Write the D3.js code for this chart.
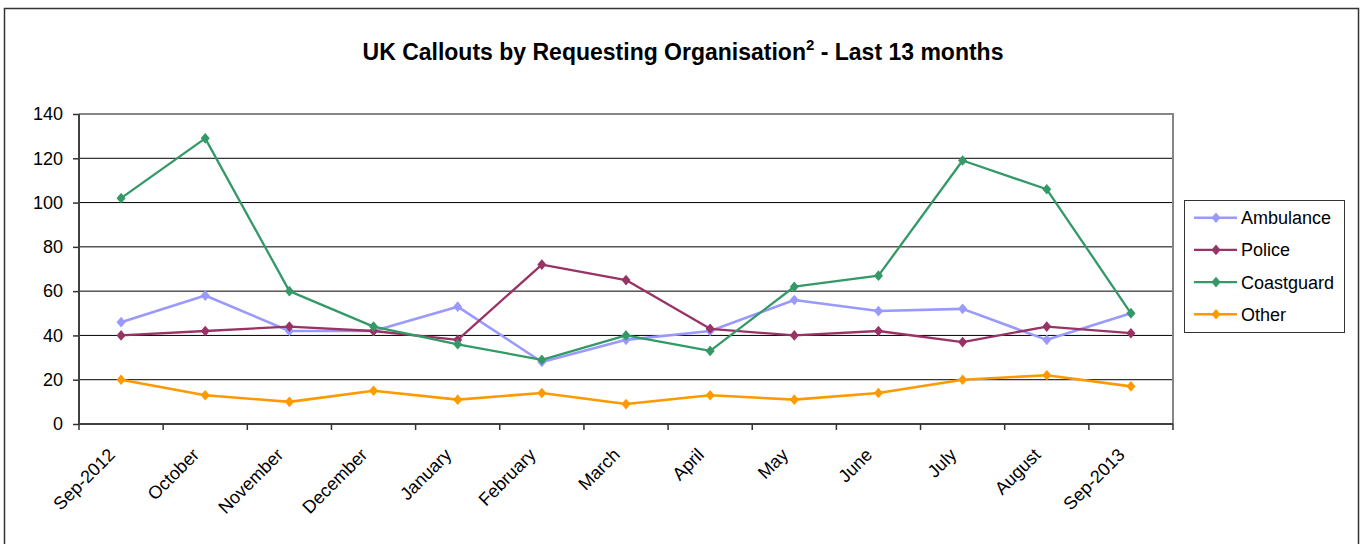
<!DOCTYPE html>
<html>
<head>
<meta charset="utf-8">
<script src="https://cdn.jsdelivr.net/npm/d3@7"></script>
<style>
  body { margin: 0; background: #fff; }
  svg { display: block; font-family: Arial, "Liberation Sans", sans-serif; }
</style>
</head>
<body>
<div id="app"></div>
<script>
// months on the x axis
const months = ['Sep-2012', 'October', 'November', 'December', 'January', 'February',
  'March', 'April', 'May', 'June', 'July', 'August', 'Sep-2013']

// callouts per requesting organisation
const ambulance = [46, 58, 42, 42, 53, 28, 38, 42, 56, 51, 52, 38, 50]
const police = [40, 42, 44, 42, 38, 72, 65, 43, 40, 42, 37, 44, 41]
const coastguard = [102, 129, 60, 44, 36, 29, 40, 33, 62, 67, 119, 106, 50]
const other = [20, 13, 10, 15, 11, 14, 9, 13, 11, 14, 20, 22, 17]

const seriesNames = ['Ambulance', 'Police', 'Coastguard', 'Other']
const yTicks = [0, 20, 40, 60, 80, 100, 120, 140]

function main() {
  const width = 1362
  const height = 544

  const series = [
    { name: 'Ambulance', values: ambulance, color: '#9999ff', width: 2.6 },
    { name: 'Police', values: police, color: '#993366', width: 2.3 },
    { name: 'Coastguard', values: coastguard, color: '#339966', width: 2.3 },
    { name: 'Other', values: other, color: '#ff9900', width: 2.6 }
  ]

  const svg = d3.select('#app')
    .append('svg')
    .attr('width', width)
    .attr('height', height)

  // outer chart frame (bottom edge runs past the picture)
  svg.append('rect')
    .attr('x', 4.5)
    .attr('y', 8.5)
    .attr('width', 1354)
    .attr('height', 560)
    .attr('fill', 'none')
    .attr('stroke', '#333')
    .attr('stroke-width', 1.5)

  // title
  const title = svg.append('text')
    .attr('x', 683)
    .attr('y', 60)
    .attr('text-anchor', 'middle')
    .attr('font-size', 23)
    .attr('font-weight', 'bold')
    .attr('fill', '#000')
  title.append('tspan').text('UK Callouts by Requesting Organisation')
  title.append('tspan').attr('font-size', 15).attr('dy', -10).text('2')
  title.append('tspan').attr('dy', 10).text(' - Last 13 months')

  // scales
  const x = d3.scaleBand().domain(months).range([79, 1173])
  const y = d3.scaleLinear().domain([0, 140]).range([424, 114])
  const cx = (m) => x(m) + x.bandwidth() / 2

  // gridlines
  svg.append('g')
    .selectAll('line')
    .data(yTicks.filter((t) => t > 0 && t < 140))
    .join('line')
    .attr('x1', x.range()[0])
    .attr('x2', x.range()[1])
    .attr('y1', (d) => y(d))
    .attr('y2', (d) => y(d))
    .attr('stroke', '#000')
    .attr('stroke-width', 1)

  // plot area border: top and right in grey
  svg.append('path')
    .attr('d', `M${x.range()[0]},${y(140)}H${x.range()[1]}V${y(0)}`)
    .attr('fill', 'none')
    .attr('stroke', '#868686')
    .attr('stroke-width', 2)

  // y axis
  const yAxis = svg.append('g')
    .attr('transform', `translate(${x.range()[0]},0)`)
    .call(d3.axisLeft(y).tickValues(yTicks).tickSize(6).tickPadding(10))
  yAxis.select('.domain').remove()
  yAxis.selectAll('.tick line').attr('stroke', '#333').attr('stroke-width', 1.5)
  yAxis.selectAll('.tick text')
    .attr('font-size', 18)
    .attr('font-family', 'Arial, "Liberation Sans", sans-serif')
    .attr('fill', '#000')
  yAxis.append('line')
    .attr('x1', 0).attr('x2', 0)
    .attr('y1', y(140)).attr('y2', y(0))
    .attr('stroke', '#404040')
    .attr('stroke-width', 2)

  // x axis line and ticks on band boundaries
  const xg = svg.append('g')
  xg.append('line')
    .attr('x1', x.range()[0]).attr('x2', x.range()[1])
    .attr('y1', y(0)).attr('y2', y(0))
    .attr('stroke', '#404040')
    .attr('stroke-width', 2)
  const tickXs = months.map((m) => x(m)).concat([x.range()[1]])
  xg.selectAll('.xtick')
    .data(tickXs)
    .join('line')
    .attr('class', 'xtick')
    .attr('x1', (d) => d).attr('x2', (d) => d)
    .attr('y1', y(0)).attr('y2', y(0) + 6)
    .attr('stroke', '#333')
    .attr('stroke-width', 1.5)

  // rotated month labels
  xg.selectAll('.xlabel')
    .data(months)
    .join('text')
    .attr('class', 'xlabel')
    .attr('text-anchor', 'end')
    .attr('font-size', 18)
    .attr('fill', '#000')
    .attr('transform', (d) => `translate(${cx(d) - 5},${y(0) + 32}) rotate(-45)`)
    .text((d) => d)

  // lines and diamond markers
  const line = d3.line()
    .x((d, i) => cx(months[i]))
    .y((d) => y(d))

  // Excel-style diamond: nearly square, slightly taller than wide
  const excelDiamond = {
    draw(context, size) {
      const h = Math.sqrt(size / 1.7)
      const w = h * 0.85
      context.moveTo(0, -h)
      context.lineTo(w, 0)
      context.lineTo(0, h)
      context.lineTo(-w, 0)
      context.closePath()
    }
  }
  const diamond = d3.symbol().type(excelDiamond).size(48)

  series.forEach((s) => {
    const g = svg.append('g')
    g.append('path')
      .datum(s.values)
      .attr('d', line)
      .attr('fill', 'none')
      .attr('stroke', s.color)
      .attr('stroke-width', s.width)
      .attr('stroke-linejoin', 'round')
    g.selectAll('path.marker')
      .data(s.values)
      .join('path')
      .attr('class', 'marker')
      .attr('d', diamond)
      .attr('transform', (d, i) => `translate(${cx(months[i])},${y(d)})`)
      .attr('fill', s.color)
  })

  // legend
  const legend = svg.append('g')
  legend.append('rect')
    .attr('x', 1184.5)
    .attr('y', 200.5)
    .attr('width', 160)
    .attr('height', 132)
    .attr('fill', '#fff')
    .attr('stroke', '#333')
    .attr('stroke-width', 1)

  const rowY = d3.scaleBand().domain(seriesNames).range([200, 332]).paddingOuter(0.05)
  const item = legend.selectAll('g.item')
    .data(series)
    .join('g')
    .attr('class', 'item')
    .attr('transform', (d) => `translate(0,${rowY(d.name) + rowY.bandwidth() / 2})`)
  item.append('line')
    .attr('x1', 1194).attr('x2', 1237)
    .attr('stroke', (d) => d.color)
    .attr('stroke-width', (d) => d.width)
  item.append('path')
    .attr('d', diamond)
    .attr('transform', 'translate(1216,0)')
    .attr('fill', (d) => d.color)
  item.append('text')
    .attr('x', 1241)
    .attr('dy', '0.36em')
    .attr('font-size', 18)
    .attr('fill', '#000')
    .text((d) => d.name)
}

main()
</script>
</body>
</html>
